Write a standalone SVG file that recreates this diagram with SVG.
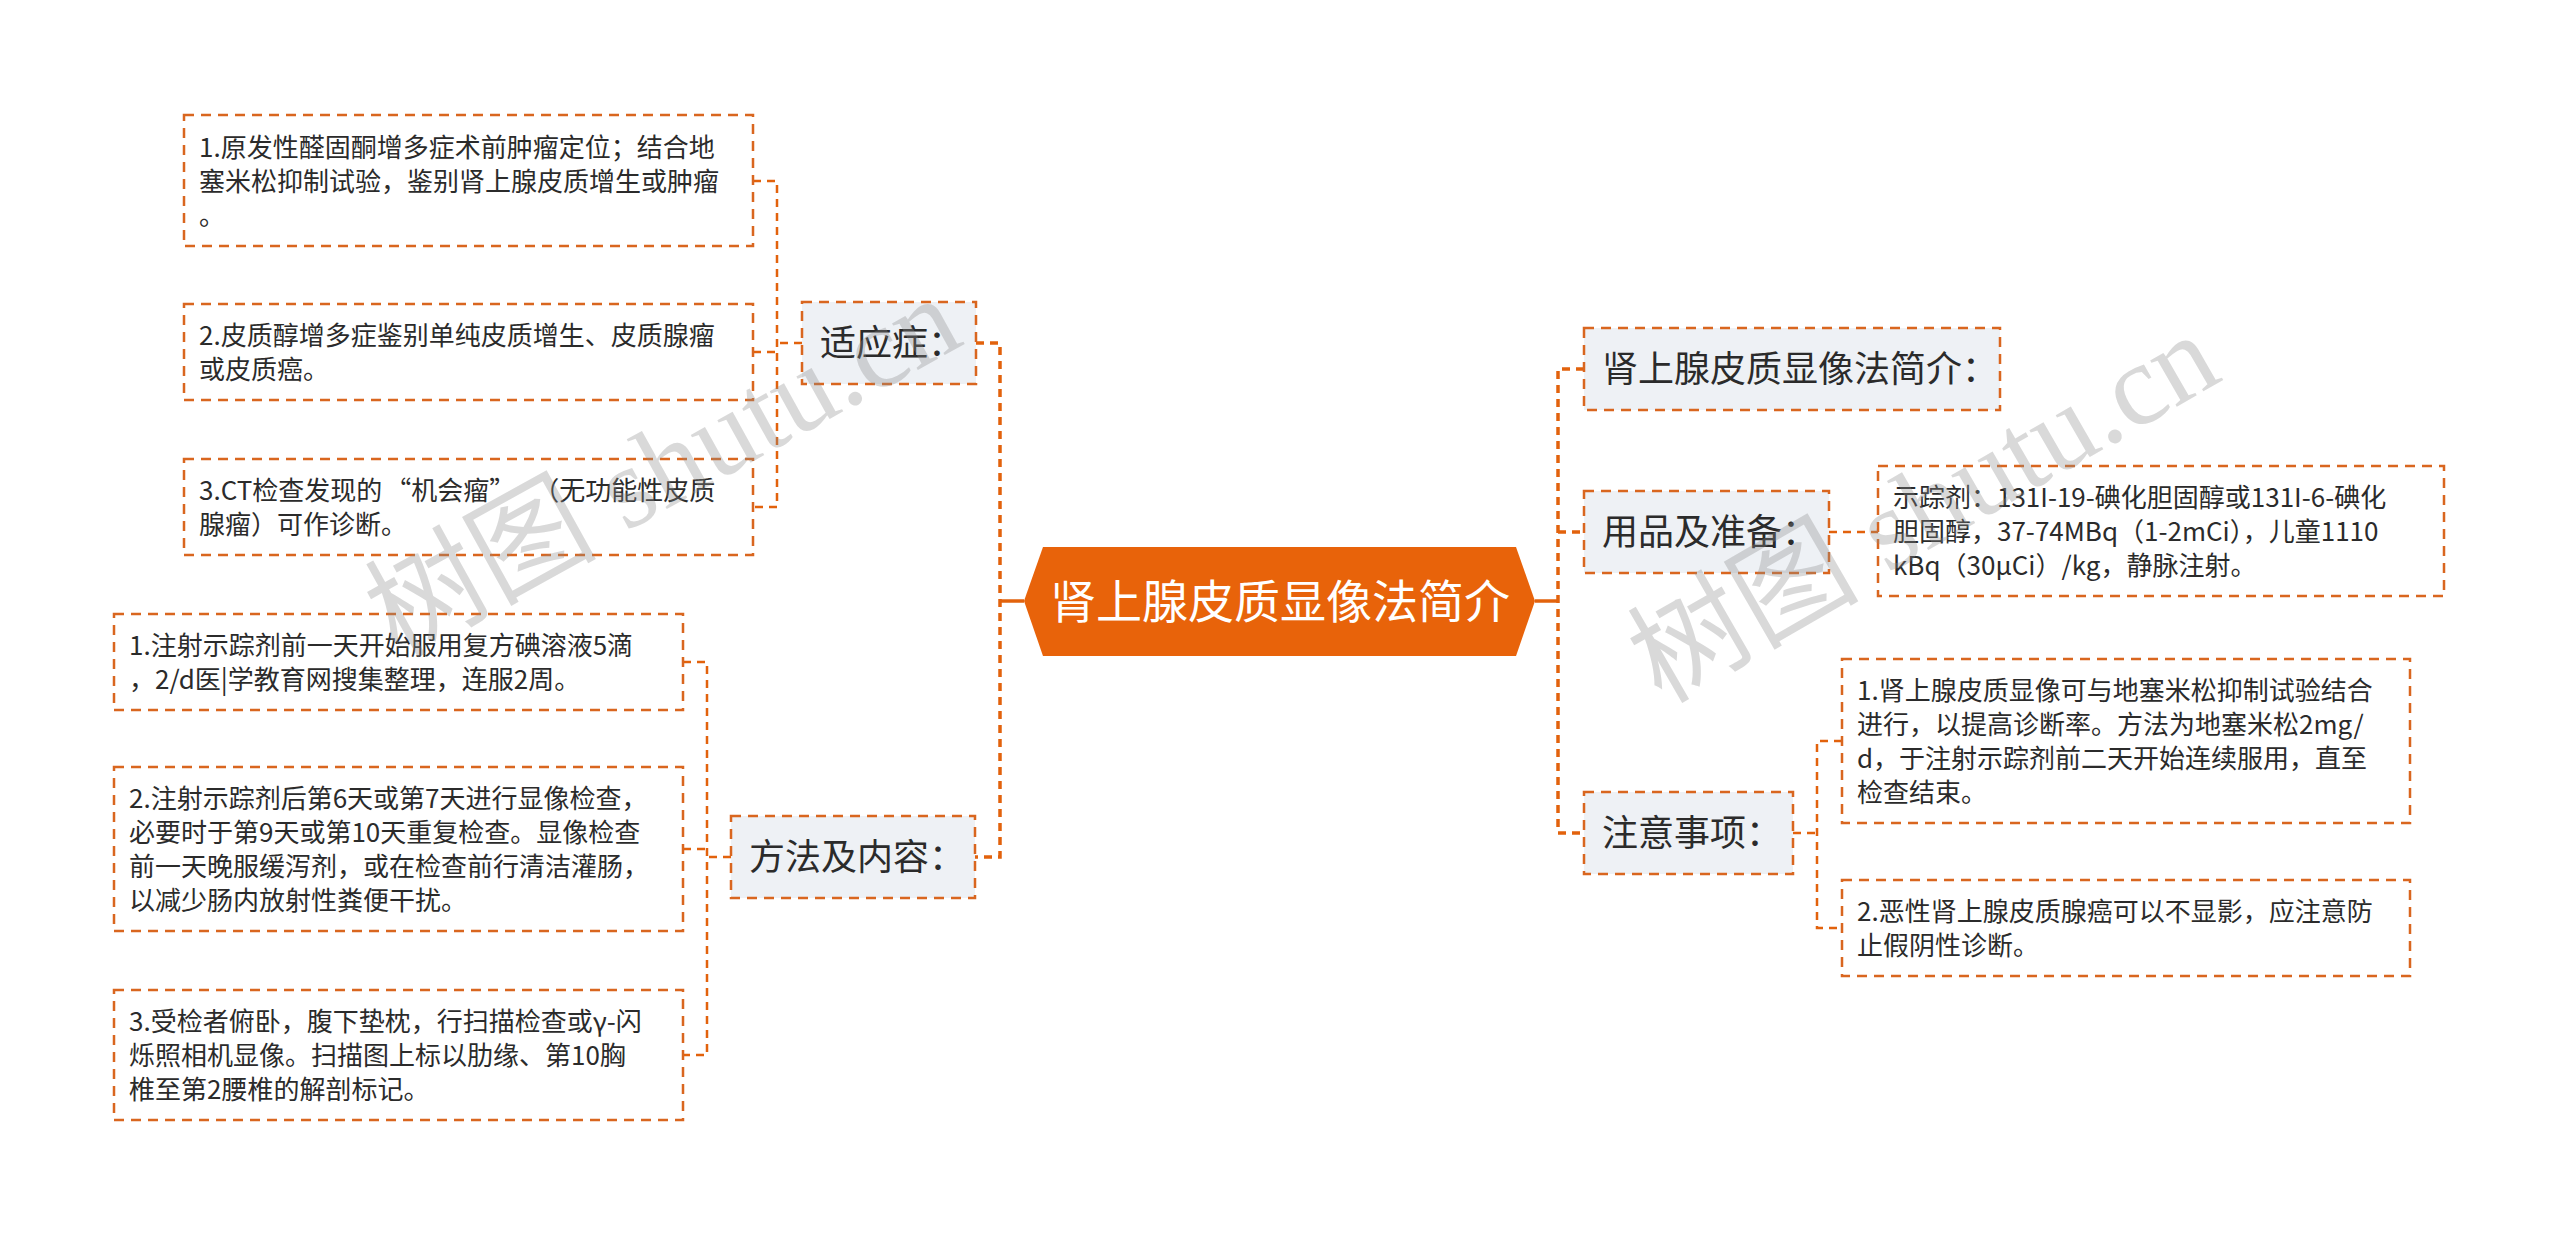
<svg xmlns="http://www.w3.org/2000/svg" width="2560" height="1237" viewBox="0 0 2560 1237">
<style>
text{font-family:"Noto Sans CJK SC","Noto Sans",sans-serif;fill:#2b2b2b}
.l1 rect{fill:#eef1f5;stroke:#d9661f;stroke-width:2.5;stroke-dasharray:10 7}
.l2 rect{fill:#ffffff;stroke:#d9661f;stroke-width:2.5;stroke-dasharray:10 7}
.l1 text{font-size:36px}
.l2 text{font-size:26px}
.trunk{fill:none;stroke:#e2620c;stroke-width:3.5;stroke-dasharray:8 6}
.br{fill:none;stroke:#e2620c;stroke-width:2.5;stroke-dasharray:8 6}
.solid{fill:none;stroke:#e2620c;stroke-width:3.5}
.wm{font-family:"Liberation Serif","Noto Sans CJK SC",serif;font-size:116px;fill:#8c8c8c;fill-opacity:0.33}
</style>
<rect width="2560" height="1237" fill="#ffffff"/>
<g id="connectors">
<path class="solid" d="M1000,601 H1024"/>
<path class="trunk" d="M976,343 H1000 V857 H975"/>
<path class="solid" d="M1535,601 H1558"/>
<path class="trunk" d="M1584,369 H1558 V833 H1584 M1558,532 H1584"/>
<path class="br" d="M802,343 H777 M753,181 H777 V507 H753 M753,352 H777"/>
<path class="br" d="M731,857 H707 M683,662 H707 V1055 H683 M683,849 H707"/>
<path class="br" d="M1829,532 H1878"/>
<path class="br" d="M1793,833 H1817 M1842,741 H1817 V928 H1842"/>
</g>
<g id="root">
<polygon points="1024,601 1043,547 1516,547 1535,601 1516,656 1043,656" fill="#e8630a"/>
<text x="1280" y="618" text-anchor="middle" style="font-size:46px;fill:#ffffff">肾上腺皮质显像法简介</text>
</g>
<g id="n-syz" class="l1">
<rect x="802" y="302" width="174" height="82"/>
<text x="820" y="356">适应症：</text>
</g>
<g id="n-ffnr" class="l1">
<rect x="731" y="816" width="244" height="82"/>
<text x="749" y="870">方法及内容：</text>
</g>
<g id="n-jj" class="l1">
<rect x="1584" y="328" width="416" height="82"/>
<text x="1602" y="382">肾上腺皮质显像法简介：</text>
</g>
<g id="n-ypzb" class="l1">
<rect x="1584" y="491" width="245" height="82"/>
<text x="1602" y="545">用品及准备：</text>
</g>
<g id="n-zysx" class="l1">
<rect x="1584" y="792" width="209" height="82"/>
<text x="1602" y="846">注意事项：</text>
</g>
<g id="n-a1" class="l2">
<rect x="184" y="115" width="569" height="131"/>
<text x="199" y="157">1.原发性醛固酮增多症术前肿瘤定位；结合地</text>
<text x="199" y="191">塞米松抑制试验，鉴别肾上腺皮质增生或肿瘤</text>
<text x="199" y="225">。</text>
</g>
<g id="n-a2" class="l2">
<rect x="184" y="304" width="569" height="96"/>
<text x="199" y="345">2.皮质醇增多症鉴别单纯皮质增生、皮质腺瘤</text>
<text x="199" y="379">或皮质癌。</text>
</g>
<g id="n-a3" class="l2">
<rect x="184" y="459" width="569" height="96"/>
<text x="199" y="500">3.CT检查发现的<tspan dx="3">“</tspan>机会瘤”<tspan dx="31">（</tspan>无功能性皮质</text>
<text x="199" y="534">腺瘤）可作诊断。</text>
</g>
<g id="n-b1" class="l2">
<rect x="114" y="614" width="569" height="96"/>
<text x="129" y="655">1.注射示踪剂前一天开始服用复方碘溶液5滴</text>
<text x="129" y="689">，2/d医|学教育网搜集整理，连服2周。</text>
</g>
<g id="n-b2" class="l2">
<rect x="114" y="767" width="569" height="164"/>
<text x="129" y="808">2.注射示踪剂后第6天或第7天进行显像检查，</text>
<text x="129" y="842">必要时于第9天或第10天重复检查。显像检查</text>
<text x="129" y="876">前一天晚服缓泻剂，或在检查前行清洁灌肠，</text>
<text x="129" y="910">以减少肠内放射性粪便干扰。</text>
</g>
<g id="n-b3" class="l2">
<rect x="114" y="990" width="569" height="130"/>
<text x="129" y="1031">3.受检者俯卧，腹下垫枕，行扫描检查或γ-闪</text>
<text x="129" y="1065">烁照相机显像。扫描图上标以肋缘、第10胸</text>
<text x="129" y="1099">椎至第2腰椎的解剖标记。</text>
</g>
<g id="n-r2c" class="l2">
<rect x="1878" y="466" width="566" height="130"/>
<text x="1893" y="507">示踪剂：131I-19-碘化胆固醇或131I-6-碘化</text>
<text x="1893" y="541">胆固醇，37-74MBq（1-2mCi），儿童1110</text>
<text x="1893" y="575">kBq（30μCi）/kg，静脉注射。</text>
</g>
<g id="n-c1" class="l2">
<rect x="1842" y="659" width="568" height="164"/>
<text x="1857" y="700">1.肾上腺皮质显像可与地塞米松抑制试验结合</text>
<text x="1857" y="734">进行，以提高诊断率。方法为地塞米松2mg/</text>
<text x="1857" y="768">d，于注射示踪剂前二天开始连续服用，直至</text>
<text x="1857" y="802">检查结束。</text>
</g>
<g id="n-c2" class="l2">
<rect x="1842" y="880" width="568" height="96"/>
<text x="1857" y="921">2.恶性肾上腺皮质腺癌可以不显影，应注意防</text>
<text x="1857" y="955">止假阴性诊断。</text>
</g>
<g id="watermark">
<text class="wm" x="666" y="505" text-anchor="middle" transform="rotate(-29 666 473)">树图 shutu.cn</text>
<text class="wm" x="1927" y="546" text-anchor="middle" transform="rotate(-30 1927 514)">树图 shutu.cn</text>
</g>
</svg>
